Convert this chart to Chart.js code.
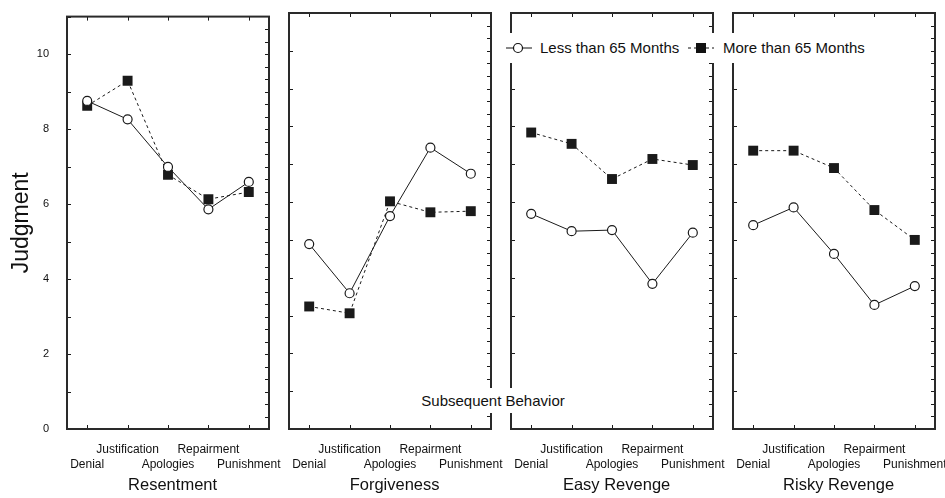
<!DOCTYPE html>
<html>
<head>
<meta charset="utf-8">
<script src="https://cdn.jsdelivr.net/npm/chart.js@4"></script>
<style>
  body { margin: 0; background: #fff; }
  #wrap { position: relative; width: 945px; height: 498px; overflow: hidden; font-family: 'Liberation Sans', Arial, sans-serif; color: #111; }
  canvas { position: absolute; top: 0; }
  .box { position: absolute; background: #fff; font-size: 15px; line-height: 16px; white-space: nowrap; }
  #legend { left: 505px; top: 33px; height: 30px; width: 362px; }
  #legend span, #legend svg { position: absolute; top: 7px; }
  #subtitle { left: 416px; top: 388px; height: 25px; width: 154px; text-align: center; padding-top: 5px; box-sizing: border-box; }
</style>
</head>
<body>
<div id="wrap">
  <canvas id="p0"></canvas>
  <canvas id="p1"></canvas>
  <canvas id="p2"></canvas>
  <canvas id="p3"></canvas>
  <div class="box" id="legend">
    <svg width="28" height="16" style="left:0px"><line x1="1" y1="8" x2="27" y2="8" stroke="#111" stroke-width="1"/><circle cx="13" cy="8" r="4.5" fill="#fff" stroke="#111" stroke-width="1.2"/></svg>
    <span style="left:35px">Less than 65 Months</span>
    <svg width="28" height="16" style="left:182px"><line x1="1" y1="8" x2="27" y2="8" stroke="#111" stroke-width="1" stroke-dasharray="3,3"/><rect x="9" y="3" width="10" height="10" fill="#111"/></svg>
    <span style="left:218px">More than 65 Months</span>
  </div>
  <div class="box" id="subtitle">Subsequent Behavior</div>
</div>
<script>
const categories = ['Denial', 'Justification', 'Apologies', 'Repairment', 'Punishment'];
const panelNames = ['Resentment', 'Forgiveness', 'Easy Revenge', 'Risky Revenge'];
const seriesNames = ['Less than 65 Months', 'More than 65 Months'];

// one row per panel, one value per category
const lessThan65 = [
    [8.75, 8.26, 6.99, 5.86, 6.59],
    [4.89, 3.59, 5.63, 7.44, 6.75],
    [5.69, 5.23, 5.26, 3.84, 5.19],
    [5.39, 5.86, 4.63, 3.28, 3.78]
];
const moreThan65 = [
    [8.62, 9.29, 6.78, 6.13, 6.32],
    [3.24, 3.06, 6.02, 5.73, 5.76],
    [7.84, 7.54, 6.61, 7.14, 6.98],
    [7.36, 7.36, 6.90, 5.79, 5.00]
];
const yMin = 0, yMax = 11;
const yLabelTicks = [0, 2, 4, 6, 8, 10];

Chart.defaults.font.family = "'Liberation Sans', Arial, sans-serif";
Chart.defaults.color = '#111';

const ink = '#1a1a1a';
const plotW = 202, gap = 20, plotTop = 13, plotBottom = 429, H = 498;

// frame + inward tick marks like the original statistics package
const framePlugin = {
    id: 'frame',
    afterDraw(chart) {
        const c = chart.ctx, a = chart.chartArea;
        const x = chart.scales.x, y = chart.scales.y;
        c.save();
        c.strokeStyle = ink;
        c.lineWidth = 1;
        c.beginPath();
        categories.forEach((_, i) => {
            const px = Math.round(x.getPixelForValue(i)) + 0.5;
            c.moveTo(px, a.top); c.lineTo(px, a.top + 4);
            c.moveTo(px, a.bottom); c.lineTo(px, a.bottom - 4);
        });
        for (let v = yMin; v <= yMax; v++) {
            const py = Math.round(y.getPixelForValue(v)) + 0.5;
            c.moveTo(a.left, py); c.lineTo(a.left + 4, py);
        }
        for (let k = 1; k < yMax * 3; k++) {
            const py = Math.round(y.getPixelForValue(k / 3)) + 0.5;
            c.moveTo(a.right, py); c.lineTo(a.right - 4, py);
        }
        c.stroke();
        c.strokeStyle = '#2a2a2a';
        c.lineWidth = 2;
        c.strokeRect(a.left, a.top, a.right - a.left, a.bottom - a.top);
        c.restore();
    }
};

panelNames.forEach((name, p) => {
    const first = p === 0;
    const padL = first ? 0 : 24, padR = 24;
    const axisW = first ? 67 : 0;
    const plotLeft = 67 + p * (plotW + gap);
    const canvas = document.getElementById('p' + p);
    canvas.width = padL + axisW + plotW + padR;
    canvas.height = H;
    canvas.style.left = (plotLeft - padL - axisW) + 'px';

    new Chart(canvas, {
        type: 'line',
        data: {
            labels: categories,
            datasets: [{
                label: seriesNames[0],
                data: lessThan65[p],
                borderColor: ink,
                borderWidth: 1,
                pointStyle: 'circle',
                pointRadius: 4.5,
                pointBorderWidth: 1.2,
                pointBackgroundColor: '#fff',
                pointBorderColor: ink
            }, {
                label: seriesNames[1],
                data: moreThan65[p],
                borderColor: ink,
                borderWidth: 1,
                borderDash: [3, 3],
                pointStyle: 'rect',
                pointRadius: 7,
                pointBorderWidth: 0,
                pointBackgroundColor: ink,
                pointBorderColor: ink
            }]
        },
        options: {
            responsive: false,
            animation: false,
            devicePixelRatio: 1,
            layout: { padding: { top: plotTop, bottom: 0, left: padL, right: padR } },
            plugins: { legend: { display: false }, tooltip: { enabled: false } },
            scales: {
                x: {
                    type: 'category',
                    offset: true,
                    grid: { display: false },
                    border: { display: false },
                    ticks: {
                        autoSkip: false,
                        maxRotation: 0,
                        minRotation: 0,
                        padding: 5,
                        font: { size: 12, lineHeight: 1.25 },
                        callback: (v, i) => i % 2 === 1 ? [categories[i], ''] : ['', categories[i]]
                    },
                    title: {
                        display: true,
                        text: '\u00a0\u00a0' + name,   // titles sit a little right of centre in the original
                        font: { size: 16.5 },
                        padding: { top: 0, bottom: 3 }
                    },
                    afterFit: s => { s.height = H - plotBottom; }
                },
                y: {
                    display: first,
                    min: yMin,
                    max: yMax,
                    grid: { display: false },
                    border: { display: false },
                    ticks: {
                        stepSize: 1,
                        padding: 10,
                        font: { size: 11 },
                        callback: v => yLabelTicks.includes(v) ? v : ''
                    },
                    title: {
                        display: true,
                        text: 'Judgment',
                        font: { size: 23 },
                        padding: { top: 8, bottom: 0 }
                    },
                    afterFit: s => { s.width = axisW; }
                }
            }
        },
        plugins: [framePlugin]
    });
});
</script>
</body>
</html>
